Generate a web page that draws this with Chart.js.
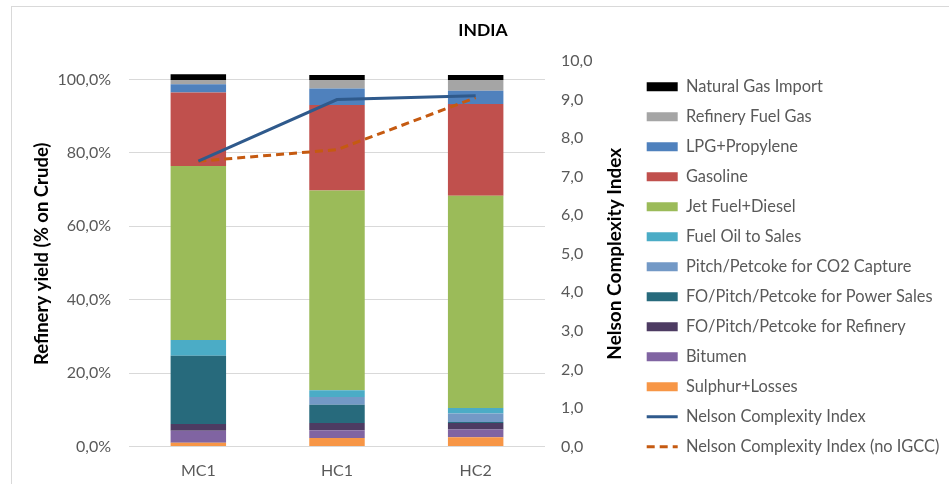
<!DOCTYPE html>
<html>
<head>
<meta charset="utf-8">
<script src="https://cdn.jsdelivr.net/npm/chart.js@4.4.1/dist/chart.umd.min.js"></script>
<style>
  html, body { margin: 0; padding: 0; background: #ffffff; overflow: hidden; }
  canvas { display: block; }
</style>
</head>
<body>
<canvas id="c" width="949" height="484"></canvas>
<script>
// Refinery configurations
const categories = ['MC1', 'HC1', 'HC2'];

// Refinery yields, % on crude (stacked bottom to top)
const sulphurLosses     = [1.0, 2.3, 2.5];
const bitumen           = [3.3, 2.1, 2.1];
const foRefinery        = [1.8, 2.0, 1.8];
const foPowerSales      = [18.6, 5.0, 0.3];
const petcokeCO2        = [0.0, 2.1, 2.3];
const fuelOilSales      = [4.3, 1.8, 1.5];
const jetDiesel         = [47.4, 54.4, 57.8];
const gasoline          = [20.0, 23.3, 25.0];
const lpgPropylene      = [2.3, 4.5, 3.6];
const refineryFuelGas   = [1.1, 2.3, 2.9];
const naturalGasImport  = [1.6, 1.4, 1.4];

// Nelson Complexity Index
const nelsonIndex       = [7.4, 9.0, 9.1];
const nelsonIndexNoIGCC = [7.4, 7.7, 9.05];

// Axis ticks
const yieldTicks  = [0, 20, 40, 60, 80, 100];
const nelsonTicks = [0, 1, 2, 3, 4, 5, 6, 7, 8, 9, 10];

const FONT = 'Lato';
const GREY_TEXT = '#595959';
const GRID = '#d9d9d9';
const TICK_FONT = 16;

const barSeries = [
  { label: 'Sulphur+Losses', data: sulphurLosses, color: '#f79646' },
  { label: 'Bitumen', data: bitumen, color: '#8064a2' },
  { label: 'FO/Pitch/Petcoke for Refinery', data: foRefinery, color: '#4d3b62' },
  { label: 'FO/Pitch/Petcoke for Power Sales', data: foPowerSales, color: '#276a7c' },
  { label: 'Pitch/Petcoke for CO2 Capture', data: petcokeCO2, color: '#7399c6' },
  { label: 'Fuel Oil to Sales', data: fuelOilSales, color: '#4bacc6' },
  { label: 'Jet Fuel+Diesel', data: jetDiesel, color: '#9bbb59' },
  { label: 'Gasoline', data: gasoline, color: '#c0504d' },
  { label: 'LPG+Propylene', data: lpgPropylene, color: '#4f81bd' },
  { label: 'Refinery Fuel Gas', data: refineryFuelGas, color: '#a5a5a5' },
  { label: 'Natural Gas Import', data: naturalGasImport, color: '#000000' }
];

const lineSeries = [
  { label: 'Nelson Complexity Index', data: nelsonIndex, color: '#2f5a8c', dash: [] },
  { label: 'Nelson Complexity Index (no IGCC)', data: nelsonIndexNoIGCC, color: '#c55a11', dash: [8, 5] }
];

const datasets = [
  ...barSeries.map(s => ({
    type: 'bar',
    label: s.label,
    data: s.data,
    backgroundColor: s.color,
    borderWidth: 0,
    stack: 'yield',
    yAxisID: 'y',
    order: 1,
    categoryPercentage: 1,
    barPercentage: 0.4
  })),
  ...lineSeries.map(s => ({
    type: 'line',
    label: s.label,
    data: s.data,
    borderColor: s.color,
    backgroundColor: s.color,
    borderWidth: 3,
    borderDash: s.dash,
    pointRadius: 0,
    fill: false,
    tension: 0,
    yAxisID: 'y2',
    order: 0
  }))
];

// Legend lists the stack from the top down, followed by the two lines
const legendOrder = [10, 9, 8, 7, 6, 5, 4, 3, 2, 1, 0, 11, 12];

// Legend geometry: 30px rows, swatch column starting at x = 646.7
const LEGEND_FONT = 16.4;
const LEGEND_PAD = 30 - LEGEND_FONT;
const LEGEND_BOX = 31;
const legendLeft = 646.7 - LEGEND_PAD;
const measure = document.createElement('canvas').getContext('2d');
measure.font = LEGEND_FONT + 'px ' + FONT;
const widestLabel = Math.max(...datasets.map(d => measure.measureText(d.label).width));
const legendWidth = LEGEND_PAD + LEGEND_BOX + LEGEND_FONT / 2 + widestLabel + 10;
const padRight = 949 - legendLeft - legendWidth;

const fmt = (v, d) => v.toFixed(d).replace('.', ',');

// Frame, chart title and right-hand axis title
const decor = {
  id: 'decor',
  beforeDraw(chart) {
    const ctx = chart.ctx;
    ctx.save();
    ctx.fillStyle = '#ffffff';
    ctx.fillRect(0, 0, chart.width, chart.height);
    ctx.strokeStyle = GRID;
    ctx.lineWidth = 1;
    ctx.strokeRect(11.5, 6.5, chart.width + 20, chart.height + 20);
    ctx.restore();
  },
  afterDraw(chart) {
    const ctx = chart.ctx;
    const area = chart.chartArea;
    ctx.save();
    ctx.fillStyle = '#000000';
    ctx.textAlign = 'center';
    ctx.textBaseline = 'middle';
    ctx.font = 'bold 17.5px ' + FONT;
    ctx.fillText('INDIA', 483, 30);

    ctx.translate(615, (area.top + area.bottom) / 2);
    ctx.rotate(-Math.PI / 2);
    ctx.font = 'bold 19px ' + FONT;
    ctx.fillText('Nelson Complexity Index', 0, 0);
    ctx.restore();
  }
};

new Chart(document.getElementById('c'), {
  type: 'bar',
  data: { labels: categories, datasets },
  options: {
    responsive: false,
    animation: false,
    devicePixelRatio: 1,
    layout: { padding: { top: 61, bottom: 0, left: 24, right: padRight } },
    scales: {
      x: {
        stacked: true,
        grid: { display: false, drawTicks: false },
        border: { display: false },
        ticks: { color: GREY_TEXT, font: { family: FONT, size: TICK_FONT }, padding: 15 },
        afterFit(s) { s.height = 37.5; }
      },
      y: {
        stacked: true,
        min: 0,
        max: 105,
        afterBuildTicks(s) { s.ticks = yieldTicks.map(v => ({ value: v })); },
        ticks: {
          color: GREY_TEXT,
          font: { family: FONT, size: TICK_FONT },
          padding: 18,
          callback: v => fmt(v, 1) + '%'
        },
        grid: { color: GRID, lineWidth: 1, drawTicks: false },
        border: { display: false },
        title: {
          display: true,
          text: 'Refinery yield (% on Crude)',
          color: '#000000',
          font: { family: FONT, size: 18.5, weight: 'bold' },
          padding: { top: 7, bottom: 0 }
        },
        afterFit(s) { s.width = 105; }
      },
      y2: {
        position: 'right',
        min: 0,
        max: 10,
        afterBuildTicks(s) { s.ticks = nelsonTicks.map(v => ({ value: v })); },
        ticks: {
          color: GREY_TEXT,
          font: { family: FONT, size: TICK_FONT },
          padding: 16,
          callback: v => fmt(v, 1)
        },
        grid: { display: false, drawTicks: false },
        border: { display: false },
        afterFit(s) { s.width = legendLeft - 545; }
      }
    },
    plugins: {
      title: { display: false },
      tooltip: { enabled: false },
      legend: {
        position: 'right',
        align: 'start',
        maxWidth: 400,
        // empty title used only as a small top offset for the first row
        title: { display: true, text: '', font: { size: 1 }, padding: { top: 2.7, bottom: 0 } },
        labels: {
          usePointStyle: true,
          pointStyleWidth: LEGEND_BOX,
          boxHeight: 9,
          padding: LEGEND_PAD,
          color: GREY_TEXT,
          font: { family: FONT, size: LEGEND_FONT },
          generateLabels(chart) {
            return legendOrder.map(i => {
              const ds = chart.data.datasets[i];
              const isLine = ds.type === 'line';
              return {
                text: ds.label,
                datasetIndex: i,
                hidden: false,
                fontColor: GREY_TEXT,
                pointStyle: isLine ? 'line' : 'rect',
                fillStyle: isLine ? 'rgba(0,0,0,0)' : ds.backgroundColor,
                strokeStyle: isLine ? ds.borderColor : ds.backgroundColor,
                lineWidth: isLine ? 3 : 0,
                lineDash: isLine ? ds.borderDash : []
              };
            });
          }
        }
      }
    }
  },
  plugins: [decor]
});
</script>
</body>
</html>
